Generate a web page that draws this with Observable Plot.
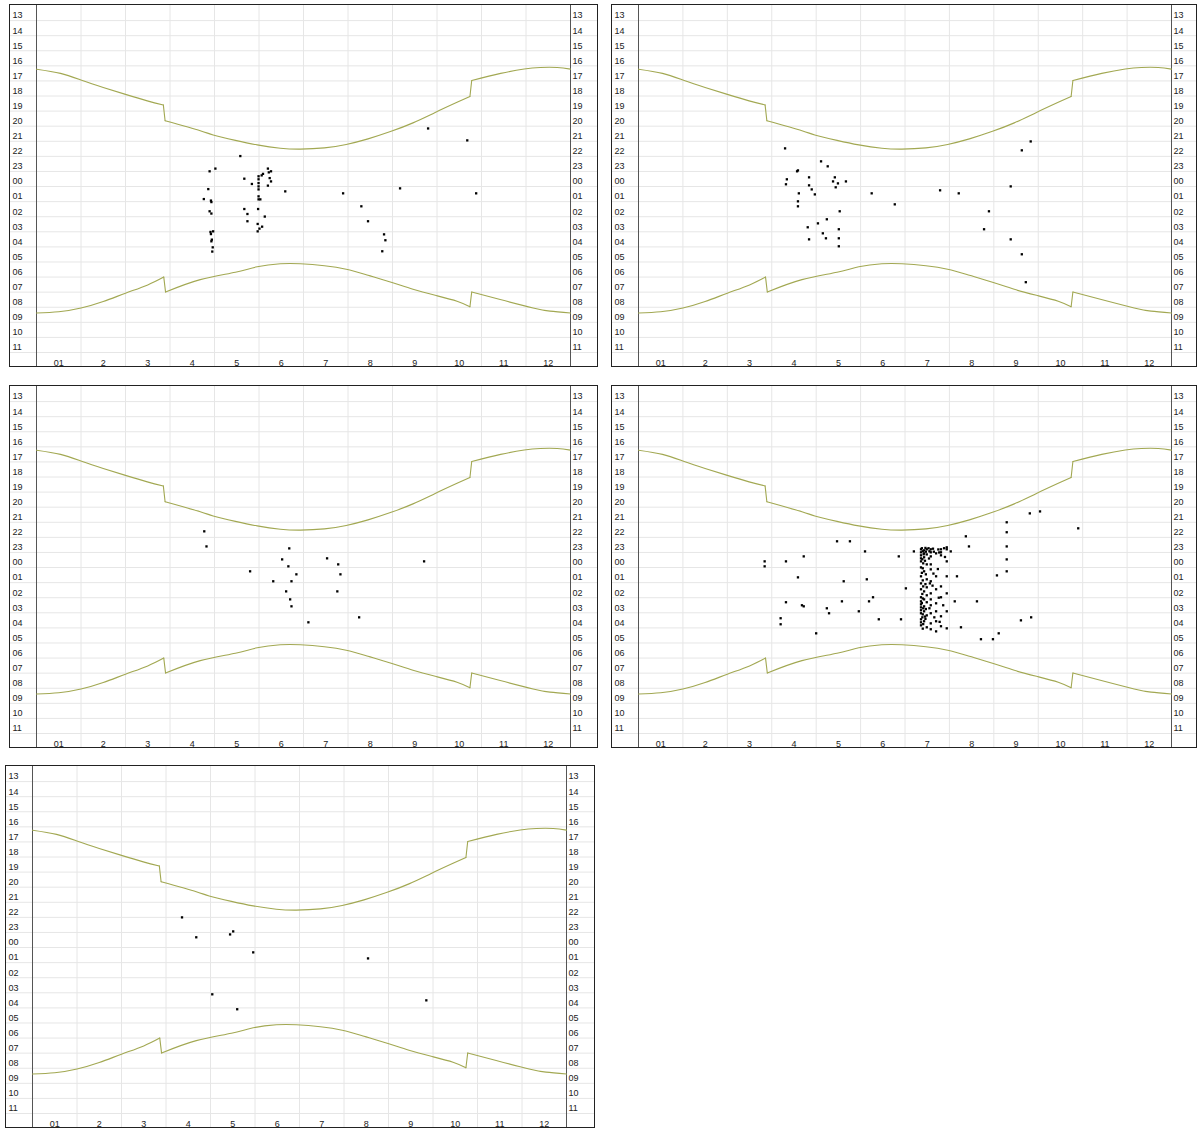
<!DOCTYPE html>
<html>
<head>
<meta charset="utf-8">
<script src="https://cdn.jsdelivr.net/npm/d3@7"></script>
<script src="https://cdn.jsdelivr.net/npm/@observablehq/plot@0.6"></script>
<style>
  body { margin: 0; background: #fff; }
  #wrap { position: relative; width: 1198px; height: 1129px; overflow: hidden; }
  .panel { position: absolute; }
  .panel svg { display: block; border: 1px solid #222; background: #fff; }
</style>
</head>
<body>
<div id="wrap"></div>
<script>
// Axis labels
const monthLabels = ["01", "2", "3", "4", "5", "6", "7", "8", "9", "10", "11", "12"];
const hourLabels = ["13", "14", "15", "16", "17", "18", "19", "20", "21", "22", "23",
                    "00", "01", "02", "03", "04", "05", "06", "07", "08", "09", "10", "11"];

// Sunset and sunrise through the year (month position 0–12, clock hour; past midnight +24).
// Two points close together in month mark the daylight-saving clock change.
const sunsetMonth = [0, 0.54, 1.03, 1.50, 2.00, 2.49, 2.85, 2.89, 3.68, 3.97, 4.47, 4.96, 5.48, 5.93,
                     6.47, 6.96, 7.45, 7.97, 8.46, 8.96, 9.45, 9.74, 9.78, 10.43, 10.96, 11.32, 11.70, 12];
const sunsetHour = [17.22, 17.50, 17.97, 18.43, 18.89, 19.32, 19.59, 20.64, 21.30, 21.58, 21.94, 22.24, 22.46, 22.52,
                    22.44, 22.21, 21.84, 21.34, 20.78, 20.09, 19.42, 19.03, 17.97, 17.50, 17.21, 17.11, 17.11, 17.22];
const sunriseMonth = [0, 0.50, 1.00, 1.50, 2.00, 2.50, 2.86, 2.90, 3.68, 4.47, 4.96, 5.48, 5.93,
                      6.47, 6.96, 7.45, 7.97, 8.46, 8.96, 9.45, 9.74, 9.78, 10.42, 11.16, 11.54, 12];
const sunriseHour = [33.38, 33.30, 33.05, 32.62, 32.07, 31.52, 31.00, 31.99, 31.17, 30.68, 30.32, 30.12, 30.12,
                     30.25, 30.48, 30.88, 31.34, 31.81, 32.21, 32.60, 32.97, 31.99, 32.49, 33.05, 33.26, 33.38];

// Observations: [month position, clock hour]
const obs1 = [
  [4.58, 22.98], [3.89, 23.99], [4.02, 23.81], [4.67, 24.48], [4.84, 24.83], [5.09, 24.16], [5.06, 24.26],
  [5.20, 23.81], [5.27, 23.99], [5.22, 24.06], [5.24, 24.44], [5.27, 24.66], [5.20, 24.94],
  [4.99, 24.32], [4.99, 24.52], [4.99, 24.77], [4.99, 24.99], [4.99, 25.19], [4.99, 25.65], [4.99, 25.85],
  [5.03, 25.85], [5.59, 25.32], [3.86, 25.17], [3.76, 25.83], [3.92, 25.93], [3.93, 26.03], [3.89, 26.64],
  [3.93, 26.79], [4.67, 26.49], [4.74, 26.82], [4.74, 27.30], [4.98, 26.49], [5.13, 26.99], [4.97, 27.48],
  [5.07, 27.66], [5.01, 27.79], [4.97, 27.97], [3.91, 28.01], [3.97, 27.97], [3.92, 28.15], [3.94, 28.52],
  [3.93, 28.63], [3.96, 29.03], [3.95, 29.31], [6.89, 25.45], [7.30, 26.31], [7.45, 27.30], [7.81, 28.17],
  [7.84, 28.56], [7.77, 29.29], [8.17, 25.12], [8.80, 21.15], [9.68, 21.94], [9.88, 25.45]
];
const obs2 = [
  [3.30, 22.47], [3.57, 23.99], [3.59, 23.93], [3.34, 24.52], [3.32, 24.85], [3.61, 25.45], [3.59, 25.98],
  [3.59, 26.31], [3.84, 24.39], [3.84, 24.92], [3.90, 25.19], [4.11, 23.33], [4.26, 23.66], [4.42, 24.39],
  [4.38, 24.66], [4.49, 24.79], [4.44, 25.05], [4.67, 24.66], [3.97, 25.52], [3.81, 27.70], [3.84, 28.50],
  [4.04, 27.44], [4.15, 28.10], [4.24, 27.17], [4.22, 28.43], [4.53, 26.64], [4.51, 27.83], [4.51, 28.43],
  [4.51, 28.96], [5.25, 25.45], [5.77, 26.18], [6.79, 25.25], [7.21, 25.45], [7.89, 26.64], [7.78, 27.83],
  [8.38, 24.99], [8.63, 22.60], [8.83, 22.01], [8.38, 28.50], [8.63, 29.49], [8.72, 31.34]
];
const obs3 = [
  [3.77, 22.60], [3.82, 23.60], [4.80, 25.25], [5.32, 25.91], [5.52, 24.46], [5.68, 23.73], [5.66, 24.92],
  [5.84, 25.45], [5.73, 25.91], [5.61, 26.58], [5.70, 27.11], [5.73, 27.57], [6.11, 28.63], [6.53, 24.39],
  [6.78, 24.79], [6.83, 25.45], [6.76, 26.58], [7.25, 28.30], [8.71, 24.59]
];
const obs4 = [
  [2.84, 24.59], [2.84, 24.92], [3.32, 24.59], [3.59, 25.65], [3.72, 24.26], [3.20, 28.36], [3.20, 28.76],
  [3.32, 27.30], [3.68, 27.50], [3.72, 27.57], [4.00, 29.36], [4.24, 27.70], [4.29, 28.03], [4.47, 23.26],
  [4.62, 25.91], [4.76, 23.26], [4.58, 27.24], [4.96, 27.90], [5.10, 23.93], [5.14, 25.78], [5.19, 27.24],
  [5.28, 26.97], [5.41, 28.43], [5.86, 24.26], [5.91, 28.43], [6.02, 26.38], [6.20, 23.93],
  [6.36, 23.79], [6.36, 23.99], [6.36, 24.19], [6.36, 24.39], [6.36, 24.59], [6.36, 24.99], [6.36, 25.58],
  [6.36, 26.05], [6.36, 26.44], [6.36, 26.97], [6.36, 27.24], [6.36, 27.44], [6.36, 27.64], [6.36, 27.83],
  [6.36, 28.03], [6.36, 28.43], [6.36, 28.63], [6.36, 28.83],
  [6.38, 23.72], [6.40, 23.92], [6.42, 24.12], [6.39, 24.45], [6.41, 24.72], [6.40, 25.05], [6.38, 25.35],
  [6.40, 25.85], [6.41, 26.25], [6.39, 26.75], [6.40, 27.05], [6.38, 27.35], [6.41, 27.70], [6.40, 28.10],
  [6.39, 28.30], [6.41, 28.75], [6.40, 29.05],
  [6.43, 23.86], [6.43, 24.06], [6.43, 24.32], [6.43, 25.25], [6.43, 26.58], [6.43, 27.11], [6.43, 27.57],
  [6.43, 27.90], [6.43, 28.56],
  [6.46, 23.70], [6.47, 23.95], [6.45, 24.55], [6.47, 25.45], [6.46, 26.10], [6.47, 27.75], [6.45, 28.25],
  [6.46, 28.40],
  [6.49, 23.79], [6.49, 24.13], [6.49, 24.79], [6.49, 25.78], [6.49, 26.31], [6.49, 26.84], [6.49, 27.30],
  [6.49, 28.17], [6.49, 28.96],
  [6.53, 23.72], [6.55, 23.92], [6.54, 24.40], [6.56, 26.05], [6.55, 27.70],
  [6.58, 23.79], [6.58, 23.99], [6.58, 24.26], [6.58, 24.79], [6.58, 25.12], [6.58, 25.91], [6.58, 26.71],
  [6.58, 27.11], [6.58, 27.50], [6.58, 28.03], [6.58, 28.70], [6.58, 29.09],
  [6.63, 23.75], [6.65, 23.95], [6.64, 25.40], [6.62, 26.20], [6.66, 28.30],
  [6.70, 24.06], [6.70, 25.58], [6.70, 26.44], [6.70, 27.37], [6.70, 27.90], [6.70, 28.56], [6.70, 29.23],
  [6.75, 23.80], [6.77, 24.00], [6.74, 25.10], [6.76, 27.00], [6.78, 28.60],
  [6.81, 23.79], [6.81, 23.99], [6.81, 24.19], [6.81, 26.25], [6.81, 26.97], [6.81, 28.23], [6.81, 28.89],
  [6.88, 23.72], [6.90, 24.30], [6.86, 27.50],
  [6.94, 23.66], [6.94, 23.79], [6.94, 24.59], [6.94, 25.58], [6.94, 26.71], [6.94, 27.90], [6.94, 29.03],
  [7.17, 25.58], [7.12, 27.24], [7.03, 23.93], [7.37, 22.93], [7.44, 23.60], [7.26, 28.96], [7.62, 27.24],
  [7.71, 29.75], [7.98, 29.75], [8.07, 25.52], [8.11, 29.36], [8.29, 22.00], [8.29, 22.66], [8.29, 23.60],
  [8.29, 24.46], [8.29, 25.25], [8.61, 28.50], [8.84, 28.30], [8.81, 21.41], [9.04, 21.28], [9.90, 22.40]
];
const obs5 = [
  [3.36, 23.00], [3.68, 24.32], [4.44, 24.13], [4.51, 23.93], [4.96, 25.32], [4.04, 28.10], [4.60, 29.09],
  [7.54, 25.72], [8.85, 28.50]
];

// Split a sun curve at its clock changes: smooth pieces plus straight jumps
function sunPieces(months, hours) {
  const pts = months.map((m, i) => ({m, h: hours[i]}));
  const smooth = [], jumps = [];
  let seg = 0;
  pts.forEach((p, i) => {
    if (i > 0 && p.m - pts[i - 1].m < 0.06) {
      jumps.push({...pts[i - 1], seg: i}, {...p, seg: i});
      seg++;
    }
    smooth.push({...p, seg});
  });
  return {smooth, jumps};
}
const sunset = sunPieces(sunsetMonth, sunsetHour);
const sunrise = sunPieces(sunriseMonth, sunriseHour);

const hourLines = d3.range(14, 37);                 // hour boundaries
const hourMid = d3.range(13, 36).map(h => h + 0.5); // label rows
const monthLines = d3.range(1, 12);
const monthMid = d3.range(0, 12).map(m => m + 0.5);

const GRID = "#e6e6e6";
const AXIS = "#555";
const TEXT = "#222";
const SUN = "#a2a852";
const FONT = 9;

function sunMarks(c) {
  return [
    Plot.line(c.smooth, {x: "m", y: "h", z: "seg", stroke: SUN, strokeWidth: 1.1, curve: "natural"}),
    Plot.line(c.jumps, {x: "m", y: "h", z: "seg", stroke: SUN, strokeWidth: 1.1})
  ];
}

function panel(obs, g) {
  const {width, height, ml, mr, mb} = g;
  return Plot.plot({
    width, height,
    marginLeft: ml, marginRight: mr, marginTop: 0, marginBottom: mb,
    style: {fontFamily: "'Liberation Sans', Arial, sans-serif", fontSize: FONT + "px", color: TEXT, background: "#fff"},
    x: {domain: [0, 12], axis: null},
    y: {domain: [13, 36], reverse: true, axis: null},
    marks: [
      // grid, carried through the label margins by the axis ticks
      Plot.gridY(hourLines, {stroke: GRID, strokeOpacity: 1}),
      Plot.axisY(hourLines, {anchor: "left", tickSize: ml, tickFormat: () => "", stroke: GRID, strokeOpacity: 1, label: null}),
      Plot.axisY(hourLines, {anchor: "right", tickSize: mr, tickFormat: () => "", stroke: GRID, strokeOpacity: 1, label: null}),
      Plot.gridX(monthLines, {stroke: GRID, strokeOpacity: 1}),
      Plot.axisX(monthLines, {anchor: "bottom", tickSize: mb, tickFormat: () => "", stroke: GRID, strokeOpacity: 1, label: null}),
      // axis lines at both sides of the year
      Plot.ruleX([0, 12], {stroke: AXIS}),
      Plot.axisX([0, 12], {anchor: "bottom", tickSize: mb, tickFormat: () => "", stroke: AXIS, label: null}),
      // hour labels, left and right
      Plot.axisY(hourMid, {anchor: "left", tickSize: 0, tickPadding: 0, textAnchor: "start", dx: -(ml - 2), dy: 2.5,
        tickFormat: d => hourLabels[Math.floor(d) - 13], fill: TEXT, label: null}),
      Plot.axisY(hourMid, {anchor: "right", tickSize: 0, tickPadding: 2, textAnchor: "start", dy: 2.5,
        tickFormat: d => hourLabels[Math.floor(d) - 13], fill: TEXT, label: null}),
      // month labels
      Plot.axisX(monthMid, {anchor: "bottom", tickSize: 0, tickPadding: 7.5,
        tickFormat: d => monthLabels[Math.floor(d)], fill: TEXT, label: null}),
      // sunset and sunrise
      ...sunMarks(sunset),
      ...sunMarks(sunrise),
      // observations
      Plot.dot(obs, {x: d => d[0], y: d => d[1], symbol: "square", r: 1.3, fill: "#000", stroke: null})
    ]
  });
}

const layout = [
  {obs: obs1, left: 9,   top: 4,   width: 587, height: 361, ml: 26, mr: 27, mb: 14},
  {obs: obs2, left: 611, top: 4,   width: 584, height: 361, ml: 26, mr: 25, mb: 14},
  {obs: obs3, left: 9,   top: 385, width: 587, height: 361, ml: 26, mr: 27, mb: 14},
  {obs: obs4, left: 611, top: 385, width: 584, height: 361, ml: 26, mr: 25, mb: 14},
  {obs: obs5, left: 5,   top: 765, width: 588, height: 361, ml: 26, mr: 28, mb: 14}
];

const wrap = document.getElementById("wrap");
for (const g of layout) {
  const div = document.createElement("div");
  div.className = "panel";
  div.style.left = g.left + "px";
  div.style.top = g.top + "px";
  div.appendChild(panel(g.obs, g));
  wrap.appendChild(div);
}
</script>
</body>
</html>
